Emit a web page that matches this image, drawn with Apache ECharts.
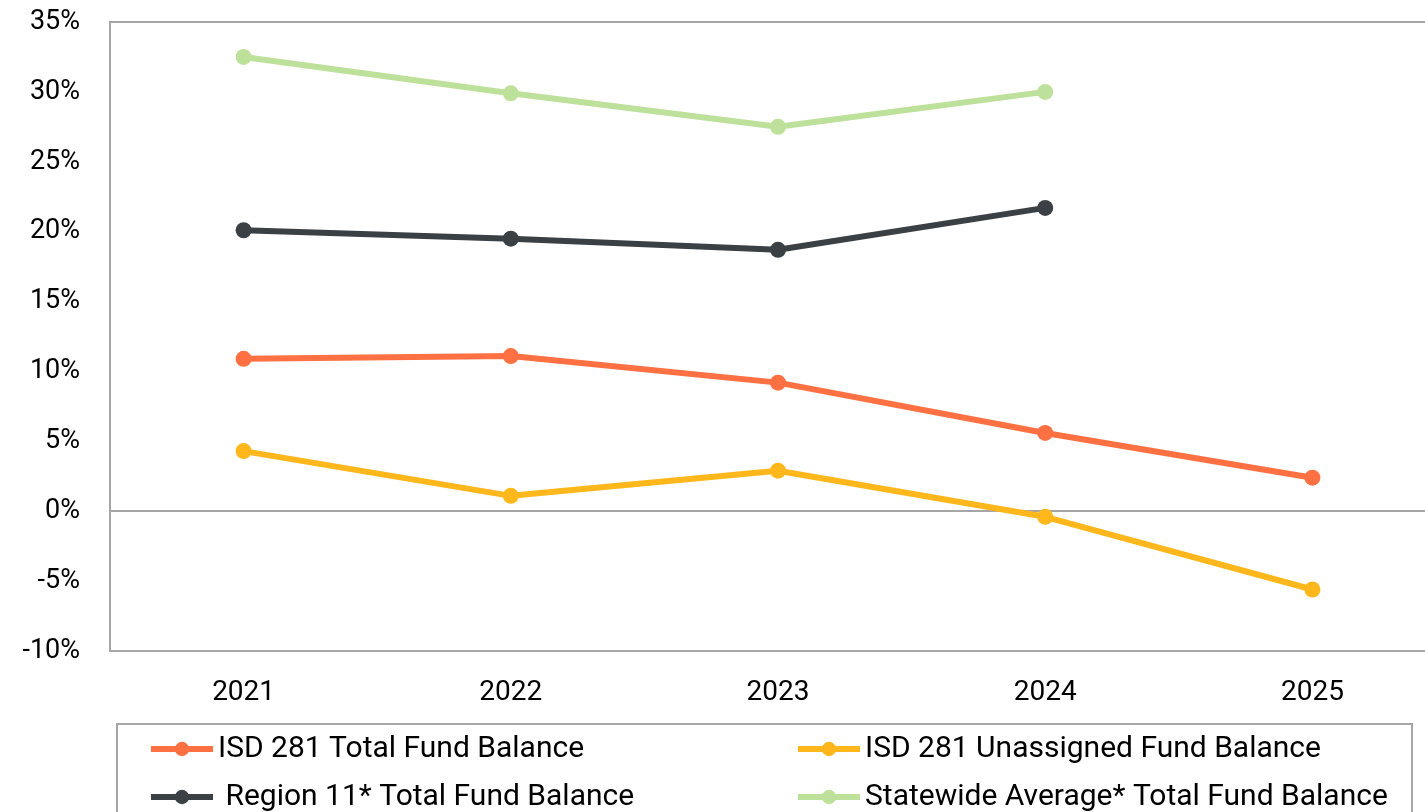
<!DOCTYPE html>
<html>
<head>
<meta charset="utf-8">
<script src="https://cdn.jsdelivr.net/npm/echarts@6/dist/echarts.min.js"></script>
<style>
html, body { margin: 0; padding: 0; background: #fff; }
#chart { width: 1425px; height: 812px; }
</style>
</head>
<body>
<div id="chart"></div>
<script>
// fiscal years
const years = ['2021', '2022', '2023', '2024', '2025']
// fund balance as % of expenditures
const isdTotal = [10.9, 11.1, 9.2, 5.6, 2.4]
const isdUnassigned = [4.3, 1.1, 2.9, -0.4, -5.6]
const region11 = [20.1, 19.5, 18.7, 21.7, null]
const statewide = [32.5, 29.9, 27.5, 30.0, null]

const names = [
  'ISD 281 Total Fund Balance',
  'ISD 281 Unassigned Fund Balance',
  'Region 11* Total Fund Balance',
  'Statewide Average* Total Fund Balance'
]
const colors = ['#ff7043', '#ffb71b', '#3b4045', '#bde19b']
const values = [isdTotal, isdUnassigned, region11, statewide]

function makeSeries() {
  let arr = []
  values.forEach((data, i) => {
    arr.push({
      name: names[i],
      type: 'line',
      data: data,
      symbol: 'circle',
      symbolSize: 16,
      color: colors[i],
      lineStyle: { width: 6, color: colors[i] },
      itemStyle: { color: colors[i] },
      z: 10 - i
    })
  })
  return arr
}

// one legend per entry, two columns by two rows
const legendPos = [[143, 729], [790, 729], [143, 777], [790, 777]]

function makeLegends() {
  let arr = []
  names.forEach((n, i) => {
    arr.push({
      left: legendPos[i][0],
      top: legendPos[i][1],
      itemWidth: 62,
      itemHeight: 18,
      data: [n],
      formatter: name => (i === 2 ? ' ' + name : name),
      lineStyle: { width: 6 },
      textStyle: {
        fontFamily: 'Roboto',
        fontSize: 30,
        color: '#000',
        lineHeight: 30
      }
    })
  })
  return arr
}

const option = {
  animation: false,
  backgroundColor: '#fff',
  grid: {
    left: 110,
    top: 22,
    width: 1336,
    bottom: 161,
    outerBoundsMode: 'none',
    show: true,
    borderColor: '#a6a6a6',
    borderWidth: 2
  },
  xAxis: {
    type: 'category',
    data: years,
    boundaryGap: true,
    axisLine: { show: true, onZero: true, lineStyle: { color: '#a6a6a6', width: 2 } },
    axisTick: { show: false },
    axisLabel: {
      fontFamily: 'Roboto',
      fontSize: 28,
      color: '#000',
      margin: 28
    }
  },
  yAxis: {
    type: 'value',
    min: -10,
    max: 35,
    interval: 5,
    axisLine: { show: false },
    axisTick: { show: false },
    splitLine: { show: false },
    axisLabel: {
      fontFamily: 'Roboto',
      fontSize: 27,
      color: '#000',
      margin: 30,
      formatter: v => v + '%'
    }
  },
  legend: makeLegends(),
  graphic: [
    {
      type: 'rect',
      shape: { x: 117, y: 724, width: 1295, height: 120 },
      style: { fill: 'none', stroke: '#a6a6a6', lineWidth: 2 },
      silent: true
    }
  ],
  series: makeSeries()
}

const myChart = echarts.init(document.getElementById('chart'))
myChart.setOption(option)
</script>
</body>
</html>
